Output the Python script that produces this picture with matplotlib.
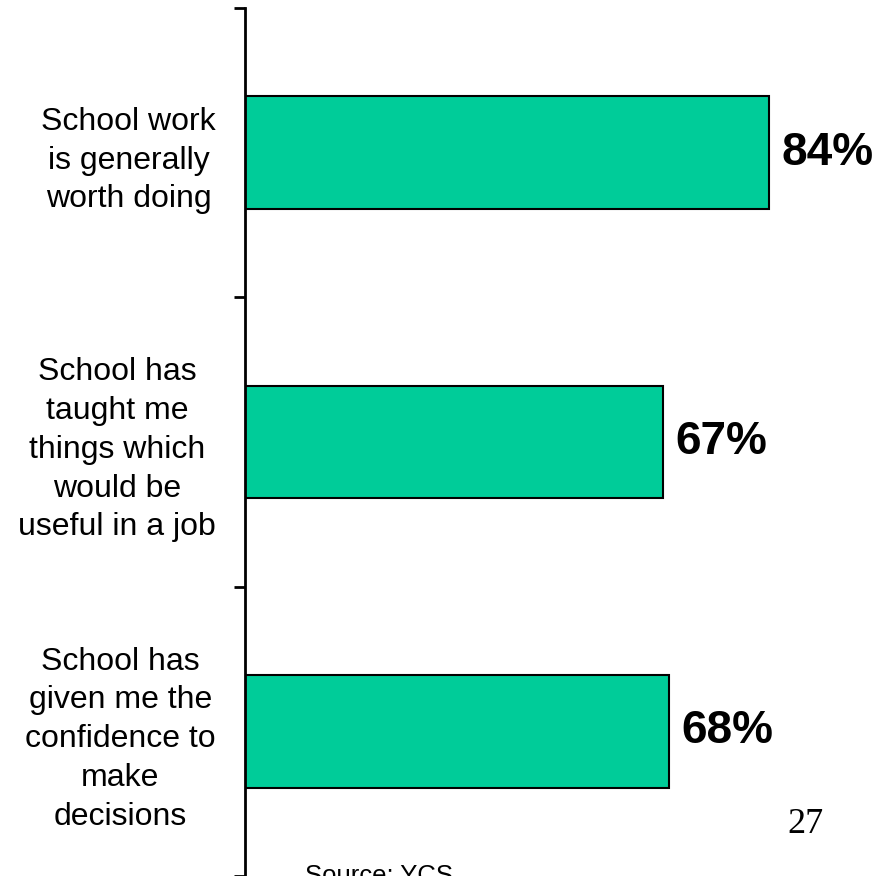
import matplotlib
matplotlib.use("Agg")
import matplotlib.pyplot as plt

categories = [
    "School work\nis generally\nworth doing",
    "School has\ntaught me\nthings which\nwould be\nuseful in a job",
    "School has\ngiven me the\nconfidence to\nmake\ndecisions",
]
values = [84, 67, 68]
value_labels = ["84%", "67%", "68%"]

plt.rcParams['font.family'] = ['Liberation Sans', 'DejaVu Sans']

W, H = 891, 876
fig = plt.figure(figsize=(W / 100, H / 100), dpi=100)
ax = fig.add_axes([245 / W, 0.0, 624 / W, 868 / H])

ypos = list(range(len(categories)))
ax.barh(ypos, values, height=0.39, color="#00CC99", edgecolor="black", linewidth=1.5, zorder=2)

ax.set_xlim(0, 100)
ax.set_ylim(len(categories) - 0.5, -0.5)

for y, v, lab in zip(ypos, values, value_labels):
    ax.text(v + 2.0, y, lab, ha="left", va="center", fontsize=33, fontweight="bold", color="black")

# category boundaries as ticks
ax.set_yticks([i - 0.5 for i in range(len(categories) + 1)])
ax.set_yticklabels([])
ax.tick_params(axis="y", length=8, width=2, direction="out", color="black")
ax.set_yticks(ypos, minor=True)
ax.set_yticklabels(categories, minor=True, fontsize=23, ha="right", multialignment="center", linespacing=1.38)
ax.tick_params(axis="y", which="minor", length=0, pad=21)
ax.set_xticks([])

for s in ["top", "right", "bottom"]:
    ax.spines[s].set_visible(False)
ax.spines["left"].set_linewidth(2)

fig.text(305 / W, 1 - 864 / H, "Source: YCS", ha="left", va="top", fontsize=18.5, color="black")
fig.text(805 / W, 1 - 833 / H, "27", ha="center", va="baseline", fontsize=26, family="Liberation Serif", color="black")

fig.savefig("out.png", dpi=100)
